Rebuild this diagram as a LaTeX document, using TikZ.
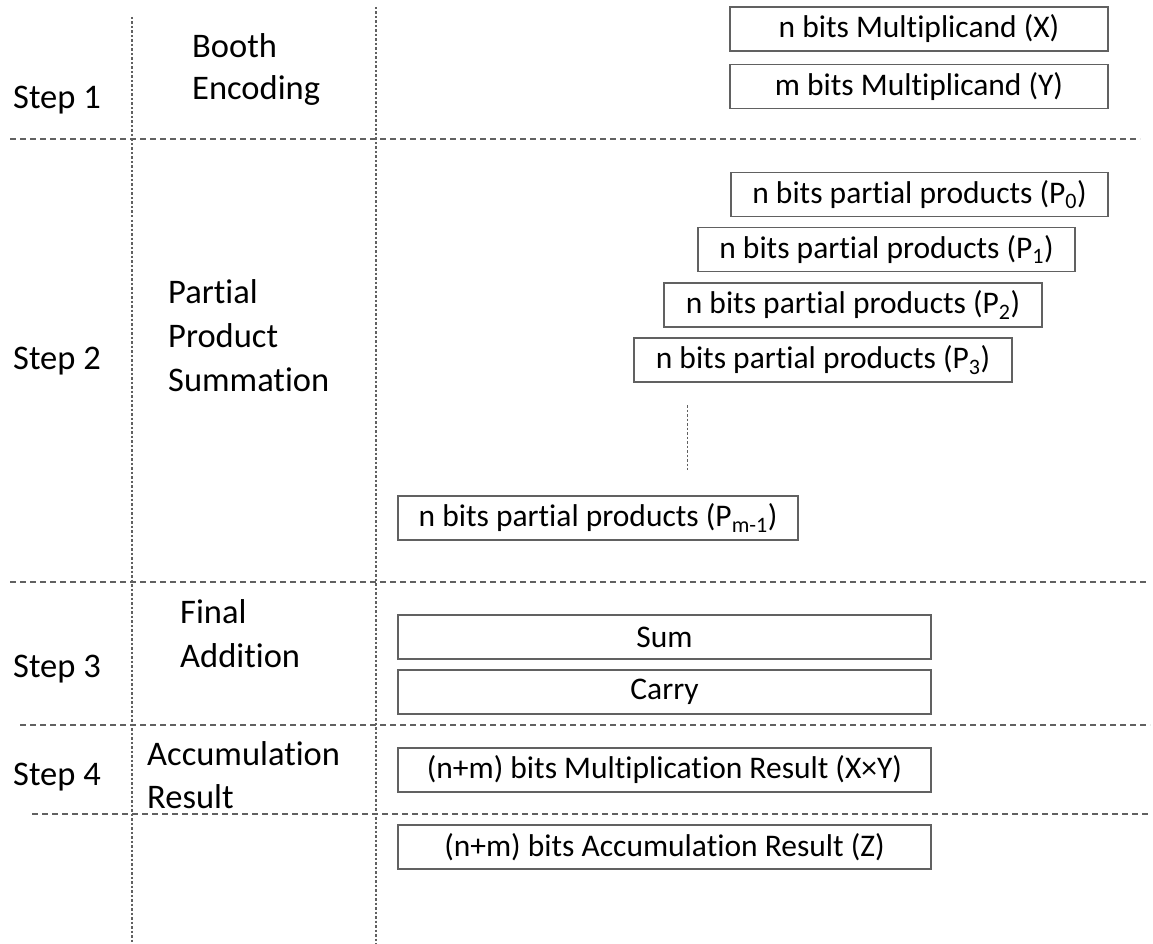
\documentclass[tikz,border=0pt]{standalone}
\usepackage{fontspec}
\setmainfont{Carlito}[Ligatures={NoCommon}]
\begin{document}
\begin{tikzpicture}[x=1pt,y=-1pt,
  bx/.style={draw=black!62,line width=1.3pt,rectangle,inner sep=0pt,
    minimum height=44pt,font=\fontsize{31.5}{36}\selectfont,text=black},
  lbl/.style={anchor=base west,inner sep=0pt,font=\fontsize{34.5}{38}\selectfont,text=black},
  hsep/.style={draw=black!62,line width=1.5pt,dash pattern=on 6pt off 4pt},
  vsep/.style={draw=black!62,line width=1.2pt,dash pattern=on 2.5pt off 2pt}]
\useasboundingbox (0,0) rectangle (1153,944);
% separators
\draw[vsep] (132,17) -- (132,944);
\draw[vsep] (376,7) -- (376,944);
\draw[hsep] (10,139) -- (1140,139);
\draw[hsep] (10,582) -- (1148,582);
\draw[hsep] (20,725) -- (1150,725);
\draw[hsep] (32,814) -- (1150,814);
% step 1
\node[lbl] (s1) at (13,109) {Step 1};
\node[lbl] (b1) at (192,58) {Booth};
\node[lbl] (b2) at (192,100) {Encoding};
\node[bx,minimum width=378pt] (X) at (919,29) {n bits Multiplicand (X)};
\node[bx,minimum width=378pt] (Y) at (919,86.5) {m bits Multiplicand (Y)};
% step 2
\node[lbl] (s2) at (13,369) {Step 2};
\node[lbl] (pp1) at (168,303) {Partial};
\node[lbl] (pp2) at (168,347) {Product};
\node[lbl] (pp3) at (168,391) {Summation};
\node[bx,minimum width=377pt] (P0) at (919.5,194.5) {n bits partial products (P\textsubscript{0})};
\node[bx,minimum width=377pt] (P1) at (886.5,249.5) {n bits partial products (P\textsubscript{1})};
\node[bx,minimum width=378pt] (P2) at (853,305) {n bits partial products (P\textsubscript{2})};
\node[bx,minimum width=378pt] (P3) at (823,360) {n bits partial products (P\textsubscript{3})};
\coordinate (d1) at (687,405);
\coordinate (d2) at (687,470);
\draw[vsep,line width=1pt] (d1) -- (d2);
\node[bx,minimum width=400pt] (Pm) at (598,518) {n bits partial products (P\textsubscript{m-1})};
% step 3
\node[lbl] (s3) at (13,677) {Step 3};
\node[lbl] (f1) at (180,623) {Final};
\node[lbl] (f2) at (180,667) {Addition};
\node[bx,minimum width=533pt] (sum) at (664.5,637) {Sum};
\node[bx,minimum width=533pt] (carry) at (664.5,692) {Carry};
% step 4
\node[lbl] (s4) at (13,785) {Step 4};
\node[lbl] (a1) at (147,765) {Accumulation};
\node[lbl] (a2) at (147,808) {Result};
\node[bx,minimum width=533pt] (mult) at (664.5,770) {(n+m) bits Multiplication Result (X×Y)};
\node[bx,minimum width=533pt] (acc) at (664.5,847) {(n+m) bits Accumulation Result (Z)};
\end{tikzpicture}
\end{document}
